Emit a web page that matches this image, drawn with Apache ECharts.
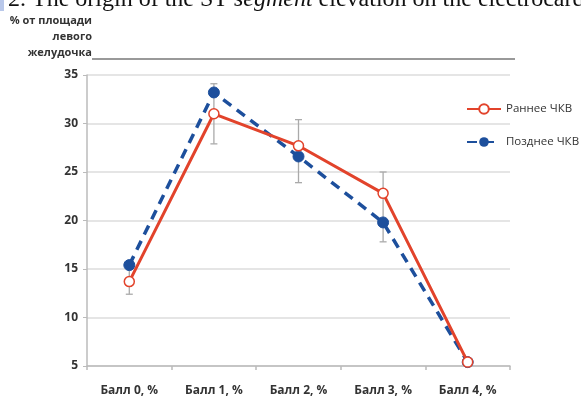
<!DOCTYPE html>
<html><head><meta charset="utf-8">
<script src="https://cdn.jsdelivr.net/npm/echarts@6/dist/echarts.min.js"></script>
<style>html,body{margin:0;padding:0;background:#fff}#c{width:581px;height:400px}</style>
</head><body><div id="c"></div>
<script>
var categories = ['Балл 0, %', 'Балл 1, %', 'Балл 2, %', 'Балл 3, %', 'Балл 4, %'];
var earlyValues = [13.7, 31.0, 27.7, 22.8, 5.4];
var lateValues = [15.4, 33.2, 26.6, 19.8, 5.4];
var errLow = [12.4, 27.9, 23.9, 17.8, null];
var errHigh = [15.0, 34.1, 30.4, 25.0, null];
var yTicks = [5, 10, 15, 20, 25, 30, 35];
var seriesNames = ['Раннее ЧКВ', 'Позднее ЧКВ'];
var yTitleLines = ['% от площади', 'левого', 'желудочка'];
var captionParts = ['2. The origin of the ST ', 'segment', ' elevation on the electrocardiogram'];

var chart = echarts.init(document.getElementById('c'), null, {renderer: 'canvas'});
var font = '"Open Sans", "Noto Sans", sans-serif';
var errData = categories.map(function (c, i) { return [i, errLow[i], errHigh[i]]; })
  .filter(function (d) { return d[1] != null; });

var serif = '"Liberation Serif", "DejaVu Serif", serif';
var graphics = [
  {type: 'rect', left: 0, top: 0, shape: {width: 4, height: 11}, style: {fill: '#b9c8ea'}},
  {type: 'text', x: 8, y: -12, style: {
    text: '{a|' + captionParts[0] + '}{b|' + captionParts[1] + '}{a|' + captionParts[2] + '}',
    verticalAlign: 'top',
    rich: {
      a: {font: '24px ' + serif, fill: '#111'},
      b: {font: 'italic 24px ' + serif, fill: '#111'}
    }
  }},
  {type: 'line', shape: {x1: 92, y1: 59, x2: 515, y2: 59}, style: {stroke: '#777', lineWidth: 1.6}}
];
yTitleLines.forEach(function (t, i) {
  graphics.push({type: 'text', x: 92, y: 20.5 + i * 16.3,
    style: {text: t, font: 'bold 11px ' + font, fill: '#333', align: 'right', verticalAlign: 'middle'}});
});

chart.setOption({
  animation: false,
  grid: {left: 87, right: 71, top: 75, bottom: 34},
  graphic: graphics,
  legend: {
    orient: 'vertical', left: 461, top: 98, itemGap: 21, itemWidth: 34, itemHeight: 12,
    data: seriesNames,
    textStyle: {fontFamily: font, fontSize: 11.5, color: '#333'}
  },
  xAxis: {
    type: 'category', data: categories, boundaryGap: true,
    axisLine: {lineStyle: {color: '#bbb', width: 1.5}},
    axisTick: {show: true, length: 4, lineStyle: {color: '#bbb', width: 1.5}},
    axisLabel: {fontFamily: font, fontWeight: 'bold', fontSize: 12, color: '#333', margin: 19}
  },
  yAxis: {
    type: 'value', min: 5, max: 35, interval: 5,
    axisLine: {show: true, lineStyle: {color: '#bbb', width: 1.5}},
    axisTick: {show: true, length: 4, lineStyle: {color: '#bbb'}},
    splitLine: {lineStyle: {color: '#ddd', width: 1.5}},
    axisLabel: {fontFamily: font, fontWeight: 'bold', fontSize: 12, color: '#333', margin: 9}
  },
  series: [
    {
      type: 'custom', name: 'err', silent: true, z: 1,
      renderItem: function (params, api) {
        var x = api.coord([api.value(0), api.value(1)])[0];
        var lo = api.coord([api.value(0), api.value(1)])[1];
        var hi = api.coord([api.value(0), api.value(2)])[1];
        var w = 3.5;
        var st = {stroke: '#aaa', lineWidth: 1.3};
        return {type: 'group', children: [
          {type: 'line', shape: {x1: x, y1: lo, x2: x, y2: hi}, style: st},
          {type: 'line', shape: {x1: x - w, y1: lo, x2: x + w, y2: lo}, style: st},
          {type: 'line', shape: {x1: x - w, y1: hi, x2: x + w, y2: hi}, style: st}
        ]};
      },
      data: errData
    },
    {
      name: seriesNames[0], type: 'line', data: earlyValues, z: 3,
      symbol: 'circle', symbolSize: 10,
      lineStyle: {color: '#e2432b', width: 3},
      itemStyle: {color: '#fff', borderColor: '#e2432b', borderWidth: 1.5}
    },
    {
      name: seriesNames[1], type: 'line', data: lateValues, z: 2,
      symbol: 'circle', symbolSize: 11,
      lineStyle: {color: '#1d4f9c', width: 3.5, type: [10, 7]},
      itemStyle: {color: '#1d4f9c', borderColor: '#1d4f9c'}
    }
  ]
});
</script></body></html>
